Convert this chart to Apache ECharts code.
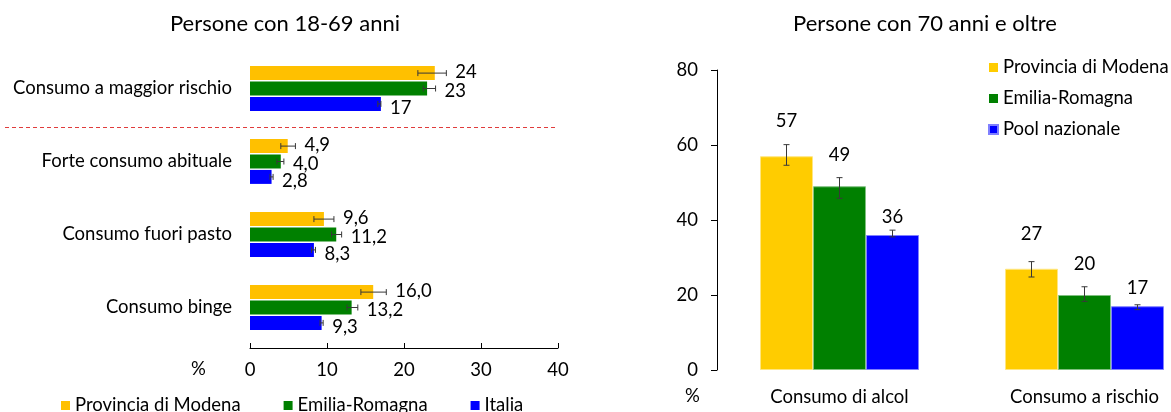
<!DOCTYPE html>
<html>
<head>
<meta charset="utf-8">
<script src="https://cdn.jsdelivr.net/npm/echarts@6/dist/echarts.min.js"></script>
<style>
  html, body { margin: 0; padding: 0; background: #fff; overflow: hidden; }
  /* the right-hand plot area runs a little past the visible edge */
  #chart { width: 1215px; height: 412px; }
</style>
</head>
<body>
<div id="chart"></div>
<script>
// ---- 18-69 anni: horizontal bars with confidence intervals ----
const categoriesYoung = ['Consumo a maggior rischio', 'Forte consumo abituale', 'Consumo fuori pasto', 'Consumo binge'];
const modenaYoung = [24, 4.9, 9.6, 16.0];
const emiliaYoung = [23, 4.0, 11.2, 13.2];
const italiaYoung = [17, 2.8, 8.3, 9.3];
const modenaYoungLow = [21.8, 4.0, 8.3, 14.4];
const modenaYoungHigh = [25.5, 5.9, 10.9, 17.7];
const emiliaYoungLow = [22.5, 3.5, 10.6, 12.6];
const emiliaYoungHigh = [24.1, 4.4, 11.9, 14.0];
const italiaYoungLow = [16.6, 2.6, 8.0, 9.1];
const italiaYoungHigh = [17.0, 3.0, 8.5, 9.5];
const decimalsYoung = [0, 1, 1, 1];
const ticksYoung = [0, 10, 20, 30, 40];

// ---- 70 anni e oltre: vertical bars with confidence intervals ----
const categoriesOld = ['Consumo di alcol', 'Consumo a rischio'];
const modenaOld = [57, 27];
const emiliaOld = [49, 20];
const poolOld = [36, 17];
const modenaOldLow = [54.6, 24.8];
const modenaOldHigh = [60.1, 28.9];
const emiliaOldLow = [45.8, 18.3];
const emiliaOldHigh = [51.3, 22.2];
const poolOldLow = [35.5, 16.1];
const poolOldHigh = [37.3, 17.4];
const ticksOld = [0, 20, 40, 60, 80];

const FONT = 'Lato, "Open Sans", sans-serif';
const FS = 18.5;
const YELLOW_L = '#FFC000';
const YELLOW_R = '#FFCC00';
const GREEN = '#008000';
const BLUE = '#0000FF';
const ERR = '#383838';

// bar geometry (px) used to line up the error bars with the bars
const H_BAR = 14, H_STEP = 15.4;   // horizontal chart: bar thickness and pitch
const V_BAR = 53, V_STEP = 53;     // vertical chart
const fmtIt = (v, d) => v.toFixed(d).replace('.', ',');

function hErrorSeries(slot, vals, low, high, labelDy) {
  return {
    type: 'custom',
    xAxisIndex: 0, yAxisIndex: 0,
    silent: true, z: 5,
    data: vals.map((v, i) => [low[i], high[i], i, v]),
    renderItem(params, api) {
      const cat = api.value(2);
      const lo = api.coord([api.value(0), cat]);
      const hi = api.coord([api.value(1), cat]);
      const y = lo[1] + (slot - 1) * H_STEP;
      const cap = 3;
      const txt = fmtIt(api.value(3), decimalsYoung[cat]);
      return {
        type: 'group',
        children: [
          { type: 'line', shape: { x1: lo[0], y1: y, x2: hi[0], y2: y }, style: { stroke: ERR, lineWidth: 1 } },
          { type: 'line', shape: { x1: lo[0], y1: y - cap, x2: lo[0], y2: y + cap }, style: { stroke: ERR, lineWidth: 1 } },
          { type: 'line', shape: { x1: hi[0], y1: y - cap, x2: hi[0], y2: y + cap }, style: { stroke: ERR, lineWidth: 1 } },
          { type: 'text', style: { text: txt, x: hi[0] + 9, y: y + labelDy, fill: '#000', font: FS + 'px ' + FONT, verticalAlign: 'middle', align: 'left' } }
        ]
      };
    }
  };
}

function vErrorSeries(slot, vals, low, high, labelLift) {
  return {
    type: 'custom',
    xAxisIndex: 1, yAxisIndex: 1,
    silent: true, z: 5,
    data: vals.map((v, i) => [i, low[i], high[i], v]),
    renderItem(params, api) {
      const cat = api.value(0);
      const lo = api.coord([cat, api.value(1)]);
      const hi = api.coord([cat, api.value(2)]);
      const top = api.coord([cat, api.value(3)]);
      const x = lo[0] + (slot - 1) * V_STEP;
      const cap = 3;
      return {
        type: 'group',
        children: [
          { type: 'line', shape: { x1: x, y1: lo[1], x2: x, y2: hi[1] }, style: { stroke: ERR, lineWidth: 1 } },
          { type: 'line', shape: { x1: x - cap, y1: lo[1], x2: x + cap, y2: lo[1] }, style: { stroke: ERR, lineWidth: 1 } },
          { type: 'line', shape: { x1: x - cap, y1: hi[1], x2: x + cap, y2: hi[1] }, style: { stroke: ERR, lineWidth: 1 } },
          { type: 'text', style: { text: String(api.value(3)), x: x, y: top[1] - labelLift, fill: '#000', font: FS + 'px ' + FONT, verticalAlign: 'middle', align: 'center' } }
        ]
      };
    }
  };
}

const chart = echarts.init(document.getElementById('chart'), null, { renderer: 'canvas' });

const percentMarks = [
  { type: 'text', left: 191, top: 360, style: { text: '%', font: FS + 'px ' + FONT, fill: '#000' } },
  { type: 'text', left: 685, top: 387, style: { text: '%', font: FS + 'px ' + FONT, fill: '#000' } }
];

const option = {
  animation: false,
  backgroundColor: '#fff',
  textStyle: { fontFamily: FONT, color: '#000' },
  title: [
    { text: 'Persone con 18-69 anni', left: 280, top: 8, textAlign: 'center',
      textStyle: { fontFamily: FONT, fontSize: 22, fontWeight: 'normal', color: '#000' } },
    { text: 'Persone con 70 anni e oltre', left: 920, top: 8, textAlign: 'center',
      textStyle: { fontFamily: FONT, fontSize: 22, fontWeight: 'normal', color: '#000' } }
  ],
  legend: [
    {
      orient: 'horizontal', left: 56, top: 391, itemGap: 43,
      itemWidth: 9, itemHeight: 9, icon: 'rect', selectedMode: false,
      textStyle: { fontFamily: FONT, fontSize: FS, color: '#000' },
      data: [
        { name: 'Provincia di Modena', itemStyle: { color: YELLOW_L } },
        { name: 'Emilia-Romagna', itemStyle: { color: GREEN } },
        { name: 'Italia', itemStyle: { color: BLUE } }
      ]
    },
    {
      orient: 'vertical', left: 983, top: 53, itemGap: 12,
      itemWidth: 9, itemHeight: 9, icon: 'rect', selectedMode: false,
      textStyle: { fontFamily: FONT, fontSize: FS, color: '#000' },
      data: [
        { name: 'Provincia di Modena', itemStyle: { color: YELLOW_R } },
        { name: 'Emilia-Romagna', itemStyle: { color: GREEN } },
        { name: 'Pool nazionale', itemStyle: { color: BLUE } }
      ]
    }
  ],
  grid: [
    { left: 250, top: 52, width: 308, height: 292, containLabel: false },
    { left: 717, top: 70, width: 490, height: 300, containLabel: false }
  ],
  xAxis: [
    {
      type: 'value', gridIndex: 0, min: ticksYoung[0], max: ticksYoung[ticksYoung.length - 1], interval: 10,
      offset: 4,
      axisLine: { show: true, lineStyle: { color: '#000', width: 1 } },
      axisTick: { show: true, inside: true, length: 5, lineStyle: { color: '#000' } },
      axisLabel: { fontFamily: FONT, fontSize: FS, color: '#000', margin: 13 },
      splitLine: { show: false }
    },
    {
      type: 'category', gridIndex: 1, data: categoriesOld,
      axisLine: { show: false }, axisTick: { show: false },
      axisLabel: { fontFamily: FONT, fontSize: FS, color: '#000', margin: 18 }
    }
  ],
  yAxis: [
    {
      type: 'category', gridIndex: 0, data: categoriesYoung, inverse: true,
      axisLine: { show: false }, axisTick: { show: false },
      axisLabel: { fontFamily: FONT, fontSize: FS, color: '#000', margin: 18 }
    },
    {
      type: 'value', gridIndex: 1, min: ticksOld[0], max: ticksOld[ticksOld.length - 1], interval: 20,
      axisLine: { show: true, lineStyle: { color: '#000', width: 1 } },
      axisTick: { show: true, length: 6, lineStyle: { color: '#000' } },
      axisLabel: { fontFamily: FONT, fontSize: FS, color: '#000', margin: 19 },
      splitLine: { show: false }
    }
  ],
  graphic: percentMarks,
  series: [
    { name: 'Provincia di Modena', type: 'bar', xAxisIndex: 0, yAxisIndex: 0, data: modenaYoung,
      barWidth: H_BAR, barGap: '10%', itemStyle: { color: YELLOW_L } },
    { name: 'Emilia-Romagna', type: 'bar', xAxisIndex: 0, yAxisIndex: 0, data: emiliaYoung,
      barWidth: H_BAR, barGap: '10%', itemStyle: { color: GREEN } },
    { name: 'Italia', type: 'bar', xAxisIndex: 0, yAxisIndex: 0, data: italiaYoung,
      barWidth: H_BAR, barGap: '10%', itemStyle: { color: BLUE } },
    hErrorSeries(0, modenaYoung, modenaYoungLow, modenaYoungHigh, -1),
    hErrorSeries(1, emiliaYoung, emiliaYoungLow, emiliaYoungHigh, 3),
    hErrorSeries(2, italiaYoung, italiaYoungLow, italiaYoungHigh, 4),

    { name: 'Provincia di Modena', type: 'bar', xAxisIndex: 1, yAxisIndex: 1, data: modenaOld,
      barWidth: V_BAR, barGap: '0%', itemStyle: { color: YELLOW_R, borderColor: '#FFE680', borderWidth: 1 } },
    { name: 'Emilia-Romagna', type: 'bar', xAxisIndex: 1, yAxisIndex: 1, data: emiliaOld,
      barWidth: V_BAR, barGap: '0%', itemStyle: { color: GREEN, borderColor: '#80C080', borderWidth: 1 } },
    { name: 'Pool nazionale', type: 'bar', xAxisIndex: 1, yAxisIndex: 1, data: poolOld,
      barWidth: V_BAR, barGap: '0%', itemStyle: { color: BLUE, borderColor: '#8080FF', borderWidth: 1 } },
    vErrorSeries(0, modenaOld, modenaOldLow, modenaOldHigh, 35),
    vErrorSeries(1, emiliaOld, emiliaOldLow, emiliaOldHigh, 31),
    vErrorSeries(2, poolOld, poolOldLow, poolOldHigh, 18)
  ]
};

chart.setOption(option);

// dashed separator between the first category and the rest
const y0 = chart.convertToPixel({ yAxisIndex: 0 }, categoriesYoung[0]);
const y1 = chart.convertToPixel({ yAxisIndex: 0 }, categoriesYoung[1]);
const sepY = Math.round((y0 + y1) / 2) + 2.5;
chart.setOption({
  graphic: percentMarks.concat([
    { type: 'line', shape: { x1: 5, y1: sepY, x2: 555, y2: sepY },
      style: { stroke: '#E03C3C', lineWidth: 1, lineDash: [4, 3] } }
  ])
});
</script>
</body>
</html>
